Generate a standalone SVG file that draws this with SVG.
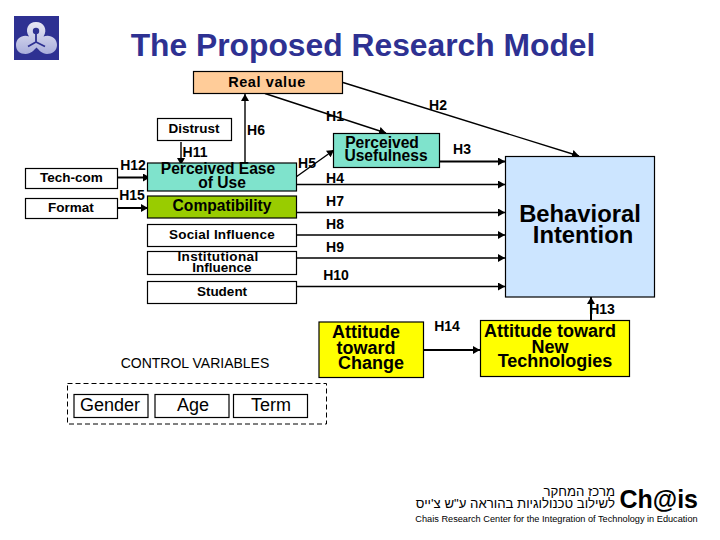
<svg xmlns="http://www.w3.org/2000/svg" width="720" height="540" viewBox="0 0 720 540">
<style>
text{font-family:"Liberation Sans",Arial,sans-serif;fill:#000;text-anchor:middle}
.n{stroke:#000;stroke-width:1.2;fill:#fff}
.b{font-weight:bold;font-size:13.500px}
.m{font-weight:bold;font-size:15.600px}
.h{font-weight:bold;font-size:14px}
.y{font-weight:bold;font-size:18px}
.r{font-size:18px}
.he{text-anchor:end;font-family:"Liberation Sans","DejaVu Sans",sans-serif;font-size:13.200px}
.c{fill:none;stroke:#000;stroke-width:1.400;marker-end:url(#a)}
.t{stroke-width:2}
.d{fill:none;stroke:#2e3192}
</style>
<defs>
<marker id="a" markerUnits="userSpaceOnUse" markerWidth="8" markerHeight="8" refX="7" refY="4" orient="auto"><path d="M0 0L7 4L0 8Z" fill="#000"/></marker>
<linearGradient id="g" x1="0" y1="0" x2="0" y2="1"><stop offset="0" stop-color="#e8e8f4"/><stop offset="1" stop-color="#a9aedb"/></linearGradient>
</defs>
<rect width="720" height="540" fill="#fff"/>
<g id="logo">
<rect x="14" y="16" width="45" height="44" fill="#2e3192"/>
<path d="M36 22C44 22 48 30 43.500 36.500C50 34 57 38 57 45C57 51 52 54 47 54C42 54 39 50 36.500 47.500C34 50 31 54 25.500 54C20 54 16 51 16 45C16 38 23 34 29 36.500C24.500 30 28 22 36 22Z" fill="url(#g)"/>
<circle cx="36" cy="31" r="3.200" fill="#2e3192"/>
<path class="d" stroke-width="1.800" d="M36 31V42M36 42L28 46.500M36 42L45 46.500"/>
</g>
<text id="title" x="363" y="56" font-size="31.800" font-weight="bold" style="fill:#2e3192">The Proposed Research Model</text>
<g id="connectors">
<path class="c" d="M265 93.500L386 133"/>
<path class="c" d="M343 82.500L579 156"/>
<path class="c" d="M245 163V94"/>
<path class="c" d="M181 142V165"/>
<path class="c t" d="M118 177.500H150"/>
<path class="c t" d="M118 208H148"/>
<path class="c" d="M296 177L334 150"/>
<path class="c t" d="M440 161.500H505"/>
<path class="c" d="M296 184.500H505"/>
<path class="c" d="M296 212.500H505"/>
<path class="c" d="M296 235H505"/>
<path class="c" d="M296 258H505"/>
<path class="c" d="M296 286.500H505"/>
<path class="c t" d="M591 321V297"/>
<path class="c t" d="M423 350H480"/>
</g>
<g id="real-value"><rect class="n" x="193.500" y="71.500" width="149" height="22" style="fill:#fc9"/><text x="267" y="87" font-size="14.500" font-weight="bold" letter-spacing=".6">Real value</text></g>
<g id="distrust"><rect class="n" x="157.500" y="118.500" width="74" height="22"/><text class="b" x="194" y="133">Distrust</text></g>
<g id="tech-com"><rect class="n" x="25.500" y="168.500" width="92" height="20"/><text class="b" x="71.500" y="182">Tech-com</text></g>
<g id="format"><rect class="n" x="25.500" y="198.500" width="92" height="20"/><text class="b" x="71" y="212">Format</text></g>
<g id="ease"><rect class="n" x="147.500" y="163" width="149" height="28" style="fill:#7fe3cc"/><text class="m" x="218" y="174">Perceived Ease</text><text class="m" x="222" y="188">of Use</text></g>
<g id="compatibility"><rect class="n" x="147.500" y="196" width="149" height="22" style="fill:#99cc00"/><text class="m" x="222" y="211">Compatibility</text></g>
<g id="social"><rect class="n" x="147.500" y="224.500" width="149" height="22"/><text class="b" x="222" y="239" letter-spacing=".2">Social Influence</text></g>
<g id="institutional"><rect class="n" x="147.500" y="251.500" width="149" height="23"/><text class="b" x="218" y="261" letter-spacing=".35">Institutional</text><text class="b" x="222" y="272">Influence</text></g>
<g id="student"><rect class="n" x="147.500" y="281.500" width="149" height="22"/><text class="b" x="222" y="296">Student</text></g>
<g id="usefulness"><rect class="n" x="333.500" y="133.500" width="106" height="34" style="fill:#7fe3cc"/><text class="m" x="382" y="148">Perceived</text><text class="m" x="386" y="161">Usefulness</text></g>
<g id="intention"><rect class="n" x="505.500" y="156.500" width="149" height="140.500" style="fill:#cce5ff"/><text x="580" y="222" font-size="23.800" font-weight="bold">Behavioral</text><text x="583" y="243" font-size="23.800" font-weight="bold">Intention</text></g>
<g id="change"><rect class="n" x="319" y="322" width="104.500" height="55.500" style="fill:#ff0"/><text class="y" x="366" y="338">Attitude</text><text class="y" x="366" y="354">toward</text><text class="y" x="371" y="369">Change</text></g>
<g id="newtech"><rect class="n" x="480.500" y="320.500" width="149" height="56" style="fill:#ff0"/><text class="y" x="550" y="337">Attitude toward</text><text class="y" x="550" y="353">New</text><text class="y" x="555" y="367">Technologies</text></g>
<g id="labels">
<text class="h" x="335" y="121">H1</text><text class="h" x="438" y="110">H2</text><text class="h" x="462" y="154">H3</text>
<text class="h" x="335" y="183">H4</text><text class="h" x="307" y="168">H5</text><text class="h" x="256" y="135">H6</text>
<text class="h" x="335" y="206">H7</text><text class="h" x="335" y="229">H8</text><text class="h" x="335" y="252">H9</text>
<text class="h" x="336" y="280">H10</text><text class="h" x="195" y="157">H11</text><text class="h" x="133" y="170">H12</text>
<text class="h" x="602" y="314">H13</text><text class="h" x="447" y="331">H14</text><text class="h" x="132" y="200">H15</text>
</g>
<text x="195" y="368" font-size="14">CONTROL VARIABLES</text>
<g id="controls">
<rect x="67.500" y="383.500" width="259" height="40.500" fill="none" stroke="#000" stroke-dasharray="5 3"/>
<g id="gender"><rect class="n" x="74" y="394.500" width="74" height="23"/><text class="r" x="110" y="411">Gender</text></g>
<g id="age"><rect class="n" x="155" y="394.500" width="74" height="23"/><text class="r" x="193" y="411">Age</text></g>
<g id="term"><rect class="n" x="233.500" y="394.500" width="74" height="23"/><text class="r" x="271" y="411">Term</text></g>
</g>
<g id="chais">
<text class="he" x="615" y="496">מרכז המחקר</text>
<text class="he" x="615" y="508">לשילוב טכנולוגיות בהוראה ע"ש צ'ייס</text>
<text x="698" y="508" font-size="25" font-weight="bold" style="text-anchor:end">Ch@is</text>
<text x="556.500" y="522" font-size="9.200">Chais Research Center for the Integration of Technology in Education</text>
</g>
</svg>
